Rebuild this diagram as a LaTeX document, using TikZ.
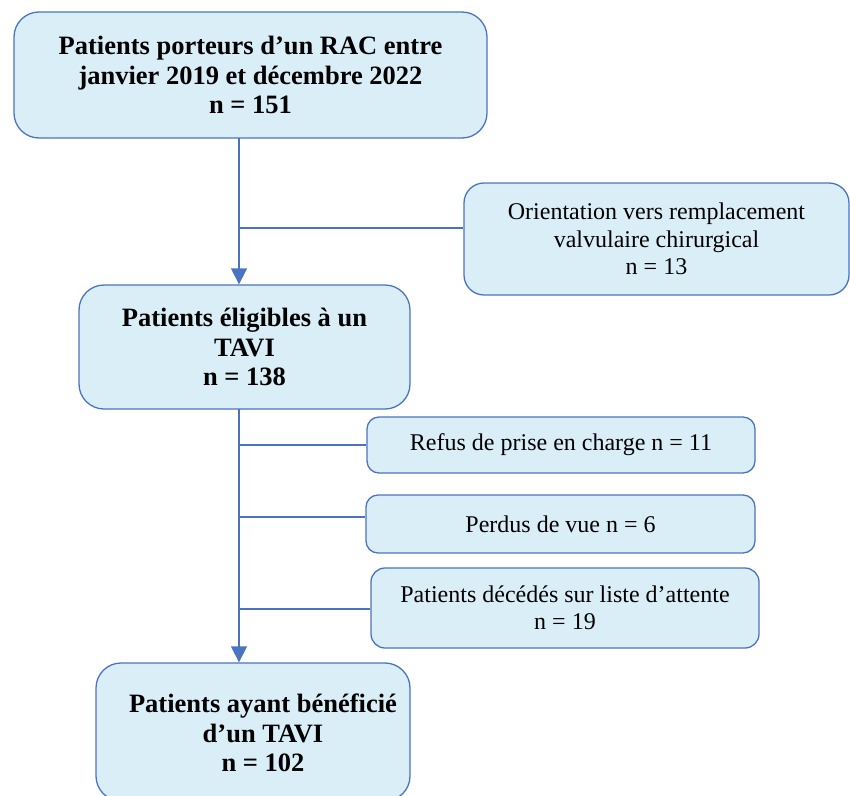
\documentclass[tikz,border=0pt]{standalone}
\usepackage{fontspec}
\setmainfont{Liberation Serif}
\usetikzlibrary{arrows.meta}
\definecolor{boxfill}{RGB}{218,238,248}
\definecolor{boxline}{RGB}{74,116,192}
\tikzset{
  box/.style={draw=boxline, fill=boxfill, line width=1.3pt, align=center, inner sep=0pt},
  bigtxt/.style={font=\fontsize{26.5}{29.5}\selectfont\bfseries, align=center},
  smalltxt/.style={font=\fontsize{24}{27.5}\selectfont, align=center},
  conn/.style={draw=boxline, line width=1.3pt},
  arr/.style={conn, -{Triangle[width=16pt,length=16pt]}}
}
\begin{document}
\begin{tikzpicture}[x=1pt,y=-1pt]
\useasboundingbox (0,0) rectangle (850,795);
\begin{scope}
\clip (0,0) rectangle (850,795);
% main boxes
\node[box, bigtxt, rounded corners=25pt, minimum width=473pt, minimum height=126pt] (b1) at (250.5,75)
  {Patients porteurs d’un RAC entre\\janvier 2019 et décembre 2022\\n = 151};
\node[box, smalltxt, rounded corners=20pt, minimum width=385pt, minimum height=112pt] (b2) at (656.5,239)
  {Orientation vers remplacement\\valvulaire chirurgical\\n = 13};
\node[box, bigtxt, rounded corners=25pt, minimum width=331pt, minimum height=124pt] (b3) at (244.5,347)
  {Patients éligibles à un\\TAVI\\n = 138};
\node[box, smalltxt, rounded corners=12pt, minimum width=388pt, minimum height=56pt] (r1) at (561,445)
  {Refus de prise en charge n = 11};
\node[box, smalltxt, rounded corners=12pt, minimum width=389pt, minimum height=58pt] (r2) at (560.5,524)
  {Perdus de vue n = 6};
\node[box, smalltxt, rounded corners=14pt, minimum width=388pt, minimum height=80pt] (r3) at (565,608)
  {Patients décédés sur liste d’attente\\n = 19};
\node[box, rounded corners=25pt, minimum width=314pt, minimum height=138pt] (b4) at (253,732) {};
\node[bigtxt] (t4) at (263,733) {Patients ayant bénéficié\\d’un TAVI\\n = 102};
\end{scope}
% connectors
\coordinate (s1) at (239,138);
\coordinate (j1) at (239,228);
\draw[arr] (s1) -- (s1 |- b3.north);
\draw[conn] (j1) -- (j1 -| b2.west);
\coordinate (s3) at (239,409);
\draw[arr] (s3) -- (s3 |- b4.north);
\coordinate (j2) at (239,445);
\coordinate (j3) at (239,517);
\coordinate (j4) at (239,609);
\draw[conn] (j2) -- (j2 -| r1.west);
\draw[conn] (j3) -- (j3 -| r2.west);
\draw[conn] (j4) -- (j4 -| r3.west);
\end{tikzpicture}
\end{document}
